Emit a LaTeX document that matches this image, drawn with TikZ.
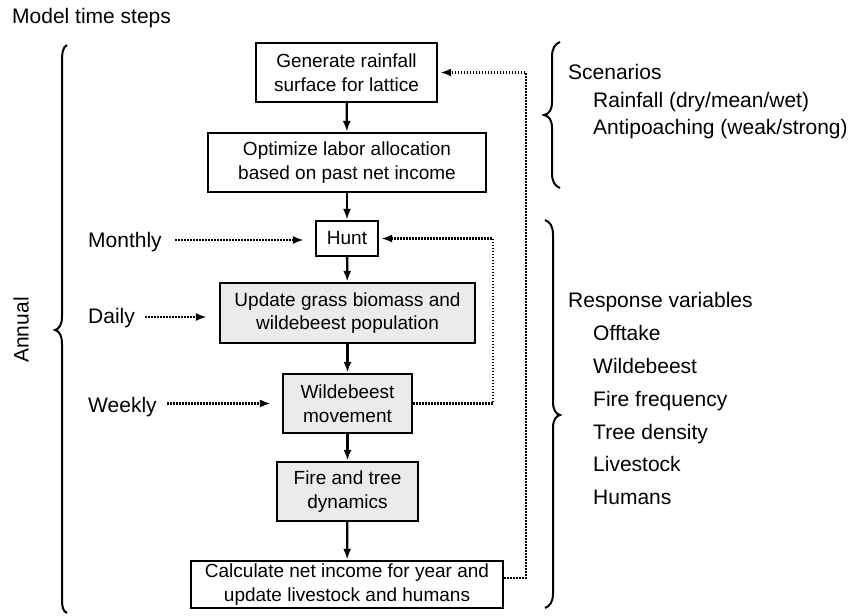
\documentclass[tikz,border=0pt]{standalone}
\usepackage{fontspec}
\setmainfont{Liberation Sans}
\usetikzlibrary{arrows.meta,calc}
\begin{document}
\begin{tikzpicture}[x=1pt,y=-1pt,
 box/.style={draw, line width=2.3pt, inner sep=0pt, align=center, font=\fontsize{19}{23.5}\selectfont},
 shaded/.style={box, fill=black!8},
 lbl/.style={anchor=base west, inner sep=0pt, font=\fontsize{21}{25}\selectfont},
 flow/.style={line width=2.3pt, -{Latex[length=11pt,width=8pt]}},
 dotflow/.style={line width=2.2pt, dash pattern=on 1.6pt off 1.4pt, -{Latex[length=11pt,width=8pt]}},
 bracestyle/.style={line width=2pt}
]
\useasboundingbox (0,0) rectangle (858,615);

% title
\node[lbl] (title) at (12,24) {Model time steps};

% boxes
\node[box, minimum width=181pt, minimum height=59pt] (gen) at (346.5,72.5) {Generate rainfall\\surface for lattice};
\node[box, minimum width=278pt, minimum height=59pt] (opt) at (347,162.5) {Optimize labor allocation\\based on past net income};
\node[box, minimum width=62pt, minimum height=35pt] (hunt) at (347,238.5) {Hunt};
\node[shaded, minimum width=255pt, minimum height=60pt] (upd) at (347.5,313) {Update grass biomass and\\wildebeest population};
\node[shaded, minimum width=129pt, minimum height=59pt] (wild) at (347.5,403.5) {Wildebeest\\movement};
\node[shaded, minimum width=141pt, minimum height=59pt] (fire) at (347.5,491.5) {Fire and tree\\dynamics};
\node[box, minimum width=312pt, minimum height=47pt] (calc) at (347,584.5) {Calculate net income for year and\\update livestock and humans};

% main flow
\draw[flow] (gen) -- (opt);
\draw[flow] (opt) -- (hunt);
\draw[flow] (hunt) -- (upd);
\draw[flow] (upd) -- (wild);
\draw[flow] (wild) -- (fire);
\draw[flow] (fire) -- (calc);

% time step labels
\node[lbl] (monthly) at (88,247) {Monthly};
\node[lbl] (daily) at (88,323) {Daily};
\node[lbl] (weekly) at (88,412) {Weekly};
\coordinate (mS) at (175,240);
\coordinate (dS) at (145,317);
\coordinate (wS) at (167,403.5);
\draw[dotflow, shorten >=11pt] (mS) -- (mS -| hunt.west);
\draw[dotflow, shorten >=12pt] (dS) -- (dS -| upd.west);
\draw[dotflow, shorten >=11pt] (wS) -- (wS -| wild.west);

% loops
\coordinate (hl) at (493,0);
\coordinate (ol) at (526,0);
\draw[dotflow, shorten >=2pt] (wild.east) -| (hl |- hunt.east) -- (hunt.east);
\draw[dotflow, shorten >=2pt] ($(calc.east)+(0,-6.5)$) -| (ol |- gen.east) -- (gen.east);

% Annual brace
\draw[bracestyle] (67,45) .. controls (63,47) and (62,52) .. (62,62) -- (62,316)
  .. controls (62,325) and (59,329) .. (55,330) .. controls (59,331) and (62,335) .. (62,344)
  -- (62,598) .. controls (62,608) and (63,611) .. (67,613);
\node[anchor=center, rotate=90, inner sep=0pt, font=\fontsize{21}{25}\selectfont] (annual) at (21,330) {Annual};

% Scenarios brace
\draw[bracestyle] (560,42) .. controls (555,44) and (552,48) .. (552,57) -- (552,102)
  .. controls (552,110) and (549,114) .. (544,115) .. controls (549,116) and (552,120) .. (552,128)
  -- (552,173) .. controls (552,182) and (555,186) .. (560,188);
\node[lbl] (scen) at (568,80) {Scenarios};
\node[lbl] (rain) at (593,107.5) {Rainfall (dry/mean/wet)};
\node[lbl] (anti) at (593,134.5) {Antipoaching (weak/strong)};

% Response brace
\draw[bracestyle] (545,220) .. controls (550,222) and (553,226) .. (553,235) -- (553,402)
  .. controls (553,410) and (556,414) .. (560,415) .. controls (556,416) and (553,420) .. (553,428)
  -- (553,593) .. controls (553,602) and (550,606) .. (545,608);
\node[lbl] (resp) at (568,307.5) {Response variables};
\node[lbl] (off) at (593,340.5) {Offtake};
\node[lbl] (wb) at (593,373) {Wildebeest};
\node[lbl] (ff) at (593,406) {Fire frequency};
\node[lbl] (td) at (593,439) {Tree density};
\node[lbl] (ls) at (593,471.5) {Livestock};
\node[lbl] (hum) at (593,504) {Humans};
\end{tikzpicture}
\end{document}
